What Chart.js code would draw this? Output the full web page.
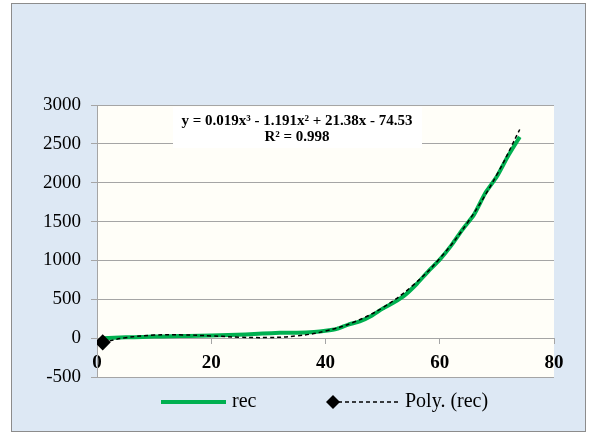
<!DOCTYPE html>
<html>
<head>
<meta charset="utf-8">
<script src="https://cdn.jsdelivr.net/npm/chart.js@4.4.1/dist/chart.umd.min.js"></script>
<style>
  body { margin: 0; background: #ffffff; }
</style>
</head>
<body>
<canvas id="chart" width="594" height="435"></canvas>
<script>
// "rec" series
const recX = [1, 3, 5, 8, 10, 13, 16, 20, 23, 26, 29, 32, 35, 38, 40, 42, 44, 46, 48, 50, 52, 54, 56, 58, 60, 62, 64, 66, 68, 70, 72, 74];
const recY = [0, 5, 10, 15, 20, 25, 28, 35, 40, 48, 60, 68, 70, 80, 95, 120, 175, 215, 285, 380, 460, 560, 700, 860, 1010, 1190, 1400, 1590, 1870, 2080, 2350, 2590];

// Poly. (rec) trendline
const polyX = [1, 5, 10, 15, 20, 25, 30, 35, 40, 45, 50, 55, 60, 65, 70, 74];
const polyY = [-54, 5, 39, 42, 29, 12, 8, 29, 91, 207, 392, 660, 1025, 1501, 2103, 2685];

const equationLines = ['y = 0.019x\u00b3 - 1.191x\u00b2 + 21.38x - 74.53', 'R\u00b2 = 0.998'];
const legendLabels = ['rec', 'Poly. (rec)'];

const green = '#00b050';
const gridGray = '#a5a5a5';
const serif = "'Liberation Serif', 'Times New Roman', serif";

const backgroundPlugin = {
    id: 'background',
    beforeDraw(chart) {
        const ctx = chart.ctx;
        const area = chart.chartArea;
        ctx.save();
        ctx.fillStyle = '#ffffff';
        ctx.fillRect(0, 0, chart.width, chart.height);
        ctx.fillStyle = '#dde8f4';
        ctx.fillRect(11, 3, 575, 429);
        ctx.strokeStyle = '#8c8c8c';
        ctx.lineWidth = 1;
        ctx.strokeRect(11.5, 3.5, 574, 428);
        ctx.fillStyle = '#fffef8';
        ctx.fillRect(area.left, area.top, area.right - area.left, area.bottom - area.top);
        ctx.restore();
    }
};

const overlayPlugin = {
    id: 'overlay',
    afterDraw(chart) {
        const ctx = chart.ctx;
        ctx.save();
        // equation box
        ctx.fillStyle = '#ffffff';
        ctx.fillRect(173, 107, 249, 41);
        ctx.fillStyle = '#000000';
        ctx.font = 'bold 15px ' + serif;
        ctx.textAlign = 'center';
        ctx.textBaseline = 'middle';
        ctx.fillText(equationLines[0], 297, 121);
        ctx.fillText(equationLines[1], 297, 137);

        // legend
        const ly = 402;
        ctx.strokeStyle = green;
        ctx.lineWidth = 4;
        ctx.beginPath();
        ctx.moveTo(161, ly);
        ctx.lineTo(226, ly);
        ctx.stroke();

        ctx.strokeStyle = '#000000';
        ctx.lineWidth = 1.5;
        ctx.setLineDash([4, 3]);
        ctx.beginPath();
        ctx.moveTo(338, ly);
        ctx.lineTo(399, ly);
        ctx.stroke();
        ctx.setLineDash([]);

        ctx.fillStyle = '#000000';
        ctx.beginPath();
        ctx.moveTo(333, ly - 7);
        ctx.lineTo(340, ly);
        ctx.lineTo(333, ly + 7);
        ctx.lineTo(326, ly);
        ctx.closePath();
        ctx.fill();

        ctx.font = '20px ' + serif;
        ctx.textAlign = 'left';
        ctx.fillText(legendLabels[0], 232, ly);
        ctx.fillText(legendLabels[1], 405, ly);
        ctx.restore();
    }
};

const ctx = document.getElementById('chart').getContext('2d');
new Chart(ctx, {
    type: 'line',
    data: {
        datasets: [
            {
                label: legendLabels[1],
                data: polyX.map((x, i) => ({ x: x, y: polyY[i] })),
                borderColor: '#000000',
                borderWidth: 1.5,
                borderDash: [4, 3],
                tension: 0.4,
                pointStyle: 'rectRot',
                pointRadius: polyX.map((x, i) => i === 0 ? 7 : 0),
                pointBackgroundColor: '#000000',
                pointBorderColor: '#000000',
                fill: false
            },
            {
                label: legendLabels[0],
                data: recX.map((x, i) => ({ x: x, y: recY[i] })),
                borderColor: green,
                borderWidth: 4,
                pointRadius: 0,
                tension: 0.2,
                fill: false
            }
        ]
    },
    options: {
        responsive: false,
        animation: false,
        layout: {
            padding: { left: 22, right: 40, top: 105, bottom: 58 }
        },
        plugins: {
            legend: { display: false },
            tooltip: { enabled: false }
        },
        scales: {
            x: {
                type: 'linear',
                position: { y: 0 },
                min: 0,
                max: 80,
                ticks: {
                    stepSize: 20,
                    color: '#000000',
                    padding: 9,
                    font: { family: serif, size: 19, weight: 'bold' },
                    callback: (v) => String(v)
                },
                grid: {
                    drawOnChartArea: false,
                    drawTicks: true,
                    tickLength: 5,
                    color: gridGray
                },
                border: { display: true, color: gridGray }
            },
            y: {
                min: -500,
                max: 3000,
                afterFit(scale) { scale.width = 75; },
                ticks: {
                    stepSize: 500,
                    color: '#000000',
                    padding: 10,
                    font: { family: serif, size: 19 },
                    callback: (v) => String(v)
                },
                grid: {
                    color: gridGray,
                    tickLength: 6
                },
                border: { display: true, color: gridGray }
            }
        }
    },
    plugins: [backgroundPlugin, overlayPlugin]
});
</script>
</body>
</html>
